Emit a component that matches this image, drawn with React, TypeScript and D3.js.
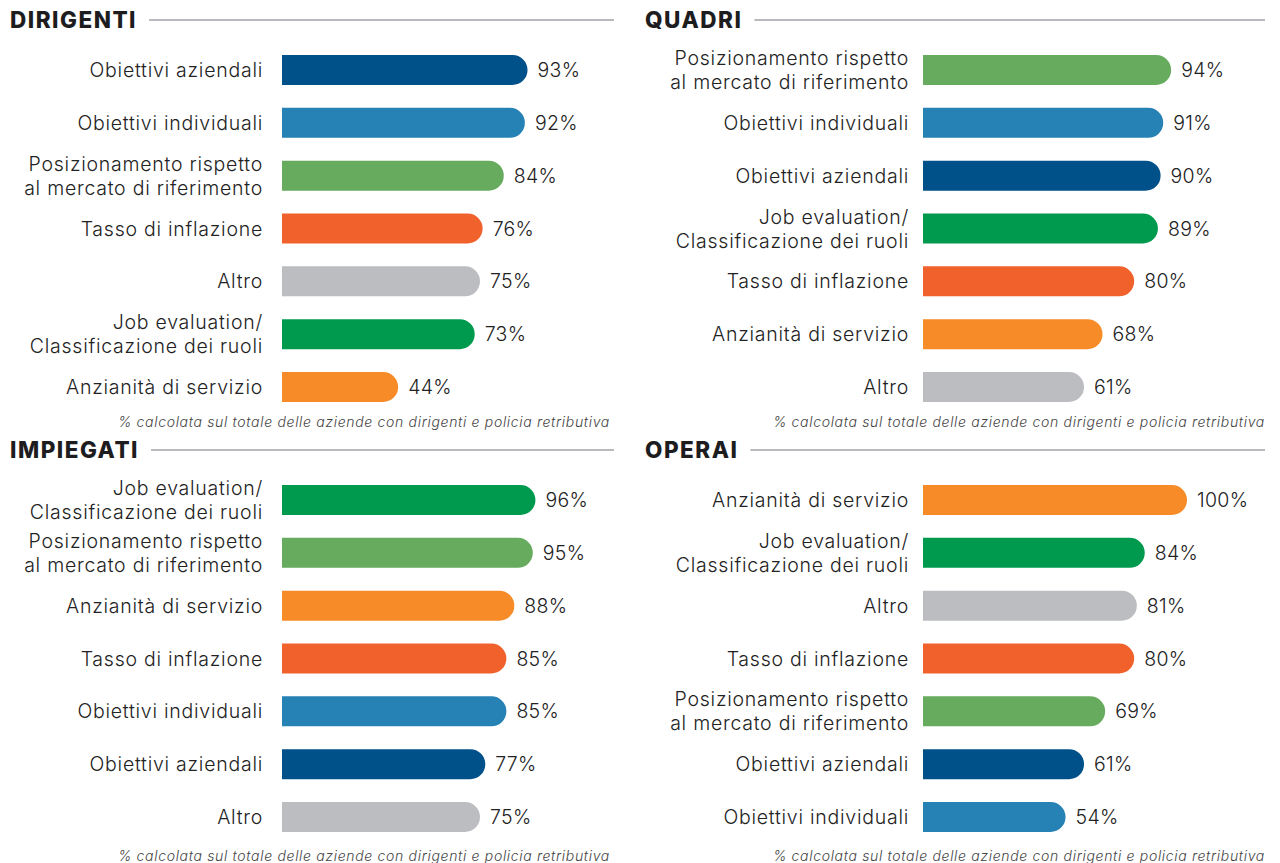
import React from "react";
import * as d3 from "d3";

const categories = [
  "Obiettivi aziendali",
  "Obiettivi individuali",
  "Posizionamento rispetto\nal mercato di riferimento",
  "Tasso di inflazione",
  "Altro",
  "Job evaluation/\nClassificazione dei ruoli",
  "Anzianità di servizio",
];
const categoryColors = ["#00508a", "#2681b4", "#66ab5e", "#f1612b", "#bcbdc1", "#009a4e", "#f68b28"];

const dirigentiCats = [0, 1, 2, 3, 4, 5, 6];
const dirigentiValues = [93, 92, 84, 76, 75, 73, 44];
const quadriCats = [2, 1, 0, 5, 3, 6, 4];
const quadriValues = [94, 91, 90, 89, 80, 68, 61];
const impiegatiCats = [5, 2, 6, 3, 1, 0, 4];
const impiegatiValues = [96, 95, 88, 85, 85, 77, 75];
const operaiCats = [6, 5, 4, 3, 2, 0, 1];
const operaiValues = [100, 84, 81, 80, 69, 61, 54];

const footnote = "% calcolata sul totale delle aziende con dirigenti e policia retributiva";

const panels = [
  { title: "DIRIGENTI", cats: dirigentiCats, values: dirigentiValues, x0: 0, y0: 0, titleX: 10, labelX: 263, right: 614, noteX: 610, noteY: 427 },
  { title: "QUADRI", cats: quadriCats, values: quadriValues, x0: 641, y0: 0, titleX: 4, labelX: 268, right: 624, noteX: 624, noteY: 427 },
  { title: "IMPIEGATI", cats: impiegatiCats, values: impiegatiValues, x0: 0, y0: 430, titleX: 10, labelX: 263, right: 614, noteX: 610, noteY: 431 },
  { title: "OPERAI", cats: operaiCats, values: operaiValues, x0: 641, y0: 430, titleX: 4, labelX: 268, right: 624, noteX: 624, noteY: 431 },
];

const FONT = "Inter, 'Noto Sans', sans-serif";

function Panel({ p }: { p: typeof panels[number] }) {
  const x = d3.scaleLinear().domain([0, 100]).range([282, 546]);
  const y = d3.scalePoint<number>().domain(d3.range(7)).range([70, 387]);
  const bh = 30;
  const r = bh / 2;
  const titleRef = React.useRef<SVGTextElement>(null);
  const [tw, setTw] = React.useState(127);
  React.useLayoutEffect(() => {
    if (titleRef.current) setTw(titleRef.current.getBBox().width);
  }, []);
  return (
    <g transform={`translate(${p.x0},${p.y0})`}>
      <text ref={titleRef} x={p.titleX} y={28} fontFamily={FONT} fontWeight={800} fontSize={22.5} fill="#1d1d1f" letterSpacing={1.5}>
        {p.title}
      </text>
      <line x1={p.titleX + tw + 12} x2={p.right} y1={20} y2={20} stroke="#b9babe" strokeWidth={2} />
      {p.values.map((v, i) => {
        const cy = y(i)!;
        const x1 = x(0);
        const x2 = x(v);
        const path = `M${x1},${cy - r} L${x2 - r},${cy - r} A${r},${r} 0 0 1 ${x2 - r},${cy + r} L${x1},${cy + r} Z`;
        const lines = categories[p.cats[i]].split("\n");
        return (
          <g key={i}>
            <path d={path} fill={categoryColors[p.cats[i]]} />
            <text x={p.labelX} textAnchor="end" fontFamily={FONT} fontWeight={300} fontSize={19.5} fill="#222" letterSpacing={0.75}>
              {lines.map((l, j) => (
                <tspan key={j} x={p.labelX} y={cy + 7 + (j - (lines.length - 1) / 2) * 24}>
                  {l}
                </tspan>
              ))}
            </text>
            <text x={x2 + 10} y={cy + 7} fontFamily={FONT} fontWeight={300} fontSize={19.5} fill="#222" letterSpacing={0.3}>
              {v}%
            </text>
          </g>
        );
      })}
      <text x={p.noteX} y={p.noteY} textAnchor="end" fontFamily={FONT} fontStyle="italic" fontWeight={300} fontSize={14} fill="#444" letterSpacing={0.68}>
        {footnote}
      </text>
    </g>
  );
}

export default function App() {
  return (
    <svg width={1280} height={863} style={{ position: "absolute", left: 0, top: 0, background: "#fff" }}>
      {panels.map((p) => (
        <Panel key={p.title} p={p} />
      ))}
    </svg>
  );
}
